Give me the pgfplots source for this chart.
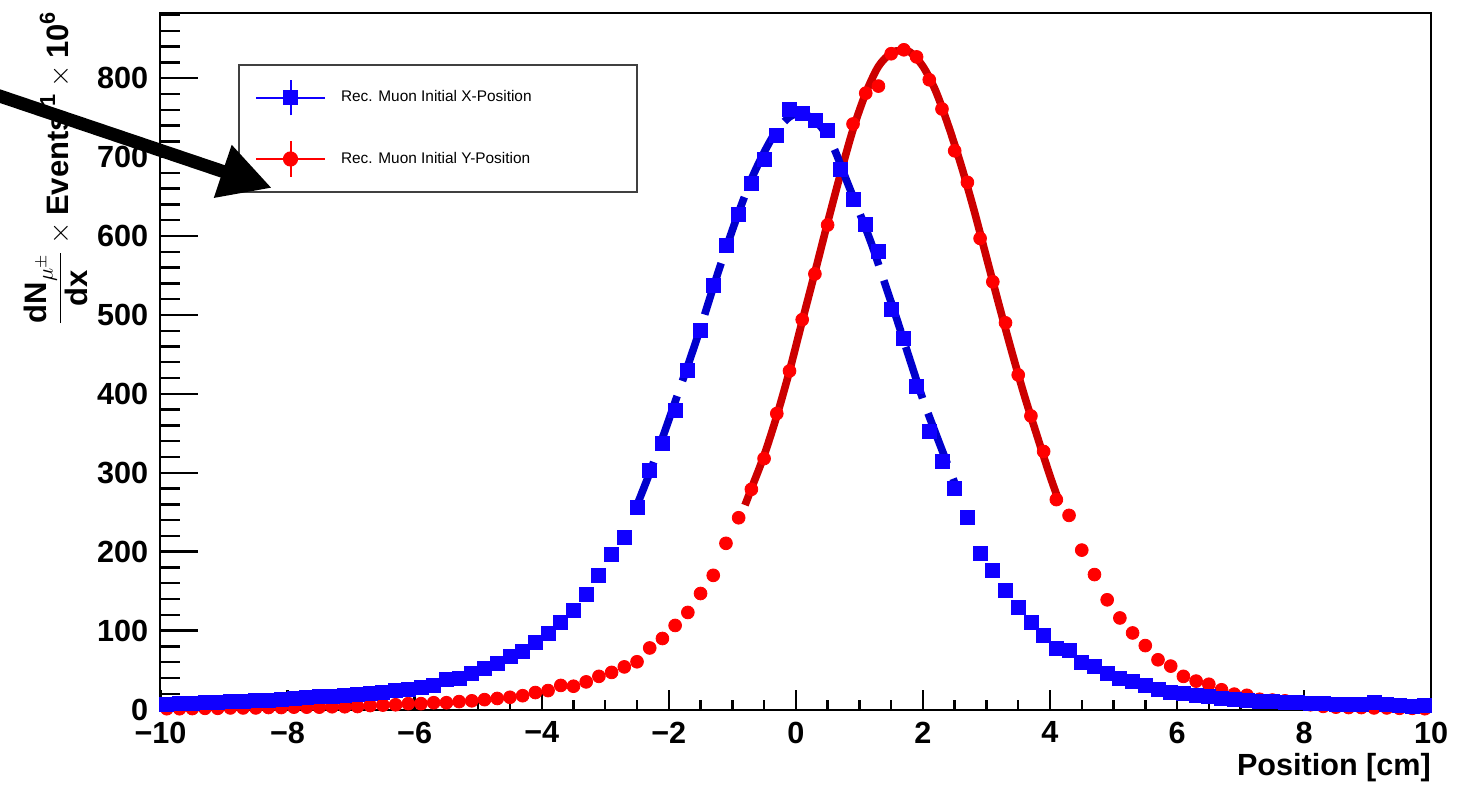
\documentclass[border=0pt]{standalone}
\usepackage{fontspec}
\setmainfont{Liberation Sans}
\usepackage{amsmath}
\usepackage{pgfplots}
\usepackage{pgfplotstable}
\pgfplotsset{compat=1.18}
\usetikzlibrary{arrows.meta}
\definecolor{mblue}{RGB}{16,0,255}
\definecolor{fblue}{RGB}{0,0,204}
\definecolor{mred}{RGB}{255,0,0}
\definecolor{fred}{RGB}{204,0,0}

\pgfplotstableread{
x y
-9.9 7
-9.7 8
-9.5 8
-9.3 8.6
-9.1 9
-8.9 10
-8.7 10.5
-8.5 11
-8.3 12
-8.1 13
-7.9 14
-7.7 15
-7.5 16
-7.3 17
-7.1 18
-6.9 19
-6.7 20.5
-6.5 22
-6.3 24
-6.1 26
-5.9 28
-5.7 30
-5.5 38
-5.3 39
-5.1 46
-4.9 52
-4.7 58
-4.5 67
-4.3 73
-4.1 85
-3.9 96
-3.7 110
-3.5 126
-3.3 146
-3.1 170
-2.9 197
-2.7 218
-2.5 256
-2.3 303
-2.1 337
-1.9 379
-1.7 430
-1.5 480
-1.3 537
-1.1 588
-0.9 627
-0.7 667
-0.5 697
-0.3 728
-0.1 760
0.1 756
0.3 747
0.5 734
0.7 685
0.9 647
1.1 615
1.3 581
1.5 507
1.7 470
1.9 410
2.1 352
2.3 315
2.5 280
2.7 244
2.9 198
3.1 176
3.3 151
3.5 129
3.7 110
3.9 94
4.1 78
4.3 75
4.5 60
4.7 54
4.9 46
5.1 39
5.3 35
5.5 30
5.7 26
5.9 22
6.1 20
6.3 18
6.5 16
6.7 14
6.9 12.5
7.1 11
7.3 10.8
7.5 10
7.7 9
7.9 8.6
8.1 7.8
8.3 7.8
8.5 7
8.7 6.6
8.9 6.6
9.1 8.6
9.3 7
9.5 5.7
9.7 3.6
9.9 5.7
}\bluedata

\pgfplotstableread{
x y
-9.9 1
-9.7 1
-9.5 1.2
-9.3 1.5
-9.1 1.5
-8.9 2
-8.7 2
-8.5 2
-8.3 2.5
-8.1 2.5
-7.9 3
-7.7 3
-7.5 3
-7.3 3.5
-7.1 3.5
-6.9 3.8
-6.7 5
-6.5 5.6
-6.3 6
-6.1 7.4
-5.9 7.4
-5.7 8.6
-5.5 8.6
-5.3 10
-5.1 11
-4.9 12.5
-4.7 14
-4.5 15.5
-4.3 17.5
-4.1 21.5
-3.9 24
-3.7 30.5
-3.5 29.5
-3.3 35
-3.1 42
-2.9 47
-2.7 54
-2.5 60.5
-2.3 78
-2.1 90
-1.9 106.5
-1.7 123
-1.5 147
-1.3 170
-1.1 210.6
-0.9 243
-0.7 279
-0.5 318
-0.3 375
-0.1 429
0.1 494
0.3 552
0.5 614
0.7 683
0.9 742
1.1 781
1.3 790
1.5 831
1.7 836
1.9 827
2.1 798
2.3 761
2.5 708
2.7 668
2.9 597
3.1 542
3.3 490
3.5 424
3.7 372
3.9 327
4.1 266
4.3 246
4.5 202
4.7 171
4.9 139
5.1 116
5.3 97
5.5 81
5.7 63
5.9 55
6.1 42
6.3 36
6.5 32
6.7 25
6.9 19.5
7.1 18
7.3 13
7.5 12
7.7 11
7.9 8.6
8.1 6
8.3 4
8.5 3
8.7 2.5
8.9 2.5
9.1 2
9.3 2
9.5 1.5
9.7 1.5
9.9 1
}\reddata

\pgfplotstableread{
x y
-0.8 259
-0.7 280
-0.5 322
-0.3 372
-0.1 429
0.1 492
0.3 554
0.5 617
0.7 678
0.9 735
1.1 781
1.3 815
1.5 832
1.65 835
1.8 833
2.0 815
2.2 784
2.4 740
2.6 690
2.8 634
3.0 573
3.2 512
3.4 453
3.6 397
3.8 346
4.0 296
4.15 262
}\redfit

\pgfplotstableread{
x y
-2.55 250
-2.5 259
-2.3 300
-2.1 344
-1.9 390
-1.7 436
-1.5 484
-1.3 535
-1.1 584
-0.9 630
-0.7 672
-0.5 706
-0.3 734
-0.1 751
0.05 755
0.2 752
0.4 738
0.6 711
0.8 670
1.0 630
1.2 588
1.4 540
1.6 492
1.8 442
2.0 393
2.2 350
2.4 308
2.52 283
}\bluefit

\begin{document}
\begin{tikzpicture}
\useasboundingbox (0,0) rectangle (731pt,394.5pt);
\begin{axis}[
  at={(80.25pt,39.75pt)}, anchor=south west,
  scale only axis, width=635.35pt, height=348.4pt,
  xmin=-10, xmax=10, ymin=0, ymax=883,
  clip=false,
  axis line style={line width=1pt, black},
  tick align=inside,
  xtick pos=bottom, ytick pos=left,
  xtick={-10,-8,-6,-4,-2,0,2,4,6,8,10},
  xticklabels={−10,−8,−6,−4,−2,0,2,4,6,8,10},
  minor xtick={-9.5,-9,...,9.5},
  ytick={0,100,200,300,400,500,600,700,800},
  yticklabels={0,100,200,300,400,500,600,700,800},
  minor ytick={20,40,...,880},
  xtick style={line width=1.2pt, black, /pgfplots/major tick length=10pt, /pgfplots/minor tick length=5pt},
  ytick style={line width=1.2pt, black, /pgfplots/major tick length=19pt, /pgfplots/minor tick length=10pt},
  ticklabel style={font=\fontsize{15.3}{18}\selectfont\bfseries},
  xticklabel style={anchor=north, inner sep=0pt, yshift=-6pt},
  yticklabel style={anchor=east, inner sep=0pt, xshift=-6pt},
  xlabel={\textbf{Position [cm]}},
  xlabel style={at={(axis description cs:1,0)}, anchor=base east, inner sep=0pt, yshift=-32.75pt, font=\fontsize{15.3}{18}\selectfont},
  ylabel={$\displaystyle\frac{\text{\bfseries dN}_{\mu^{\pm}}}{\text{\bfseries dx}}\times\text{\bfseries Events}^{\text{\bfseries -1}}\times\text{\bfseries 10}^{\text{\bfseries 6}}$},
  ylabel style={at={(axis description cs:-0.0822,1.003)}, anchor=east, inner sep=0pt, font=\fontsize{15.5}{18}\selectfont},
  reverse legend,
  legend cell align=left,
  legend style={at={(axis description cs:0.061,0.9264)}, anchor=north west,
    draw=black!75, line width=1pt, fill=white,
    inner xsep=8pt, inner ysep=7.1pt, row sep=12pt, column sep=7.5pt,
    font=\fontsize{7.7}{9}\selectfont, nodes={inner sep=0pt}},
]
\addplot[only marks, mark=*, mark size=3.2pt, color=mred, mark options={draw=mred, fill=mred},
  legend image code/.code={
    \draw[mred, line width=1pt] (0pt,0pt) -- (34.5pt,0pt) (17.25pt,-8.8pt) -- (17.25pt,8.8pt);
    \fill[mred] (17.25pt,0pt) circle (3.3pt);
  }] table[x=x,y=y] {\reddata};
\addlegendentry{\makebox[140pt][l]{Rec. Muon Initial Y-Position}}
\addplot[fred, line width=3.8pt, smooth, forget plot] table[x=x,y=y] {\redfit};
\addplot[only marks, mark=square*, mark size=3.5pt, color=mblue, mark options={draw=mblue, fill=mblue},
  legend image code/.code={
    \draw[mblue, line width=1pt] (0pt,0pt) -- (34.5pt,0pt) (17.25pt,-8.8pt) -- (17.25pt,8.8pt);
    \fill[mblue] (13.95pt,-3.3pt) rectangle (20.55pt,3.3pt);
  }] table[x=x,y=y] {\bluedata};
\addlegendentry{\makebox[140pt][l]{Rec. Muon Initial X-Position}}
\addplot[fblue, line width=3.8pt, smooth, dash pattern=on 27pt off 8pt, forget plot] table[x=x,y=y] {\bluefit};
\end{axis}
\draw[line width=6.5pt, -{Triangle[length=26pt,width=26pt]}] (-10pt,349.8pt) -- (136pt,300.5pt);
\end{tikzpicture}
\end{document}
